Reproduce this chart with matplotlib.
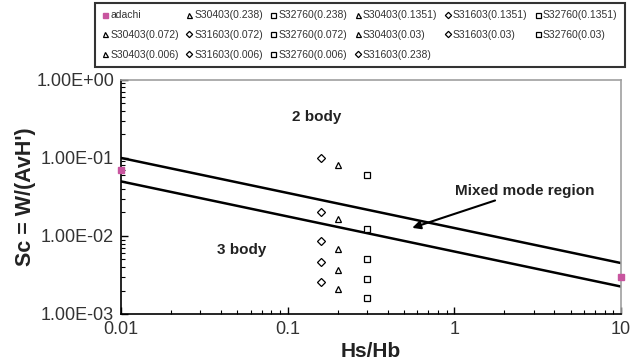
import matplotlib
matplotlib.use('Agg')
import matplotlib.pyplot as plt
from matplotlib.ticker import FuncFormatter, LogLocator

plt.rcParams['font.family'] = ['Liberation Sans', 'DejaVu Sans']

# boundary lines of the mixed mode region
line_x = [0.01, 10]
upper_y = [0.1, 0.0045]
lower_y = [0.05, 0.00225]

# adachi points
adachi_x = [0.01, 10]
adachi_y = [0.07, 0.003]

# loads, top to bottom in the plot
loads = ['0.238', '0.1351', '0.072', '0.03', '0.006']
s30403_x = 0.20
s30403_y = [0.081, 0.0164, 0.0069, 0.0037, 0.0021]
s31603_x = 0.158
s31603_y = [0.099, 0.020, 0.0086, 0.0046, 0.0026]
s32760_x = 0.30
s32760_y = [0.0605, 0.0122, 0.0051, 0.0028, 0.0016]

fig = plt.figure(figsize=(6.4, 3.63), dpi=100)
ax = fig.add_axes([0.189, 0.135, 0.781, 0.645])

ax.plot(line_x, upper_y, color='black', lw=1.8)
ax.plot(line_x, lower_y, color='black', lw=1.8)

h = {}
h['adachi'] = ax.plot(adachi_x, adachi_y, 's', color='#c8559f', ms=4.5,
                      clip_on=False, zorder=5)[0]
mk = dict(ls='none', mfc='white', mec='black', mew=0.9, ms=4.5)
for i, ld in enumerate(loads):
    h['S30403(%s)' % ld] = ax.plot([s30403_x], [s30403_y[i]], '^', **mk)[0]
    h['S31603(%s)' % ld] = ax.plot([s31603_x], [s31603_y[i]], 'D', **dict(mk, ms=4))[0]
    h['S32760(%s)' % ld] = ax.plot([s32760_x], [s32760_y[i]], 's', **mk)[0]

ax.set_xscale('log')
ax.set_yscale('log')
ax.set_xlim(0.01, 10)
ax.set_ylim(1e-3, 1)

ax.xaxis.set_major_formatter(FuncFormatter(lambda v, p: '%g' % v))
ax.yaxis.set_major_formatter(FuncFormatter(lambda v, p: '%.2E' % v))
ax.yaxis.set_minor_locator(LogLocator(base=10, subs=range(2, 10)))
ax.tick_params(which='both', direction='in', top=False, right=False,
               labelsize=13, labelcolor='#333333')
ax.tick_params(which='major', length=5, width=1)
ax.tick_params(which='minor', length=3, width=0.8)
ax.tick_params(axis='x', pad=5)
ax.tick_params(axis='y', pad=5)

for s in ['top', 'right']:
    ax.spines[s].set_color('#a0a0a0')
    ax.spines[s].set_linewidth(1.2)
for s in ['left', 'bottom']:
    ax.spines[s].set_linewidth(1.2)

ax.set_xlabel('Hs/Hb', fontsize=15, fontweight='bold', color='#222222', va='center')
ax.set_ylabel("Sc = W/(AvH')", fontsize=15.5, fontweight='bold', color='#222222', va='center')
ax.xaxis.set_label_coords(0.5, -0.162)
ax.yaxis.set_label_coords(-0.19, 0.5)

ax.text(0.106, 0.339, '2 body', fontsize=11, fontweight='bold', color='#222222', va='center')
ax.text(0.0375, 0.0066, '3 body', fontsize=11, fontweight='bold', color='#222222', va='center')
ax.annotate('Mixed mode region', xy=(0.56, 0.0127), xytext=(1.01, 0.038),
            fontsize=11, fontweight='bold', color='#222222', va='center',
            arrowprops=dict(arrowstyle='-|>', color='black', lw=1.5,
                            shrinkA=0, shrinkB=0, mutation_scale=12))

# legend filled column by column
order = ['adachi', 'S30403(0.072)', 'S30403(0.006)',
         'S30403(0.238)', 'S31603(0.072)', 'S31603(0.006)',
         'S32760(0.238)', 'S32760(0.072)', 'S32760(0.006)',
         'S30403(0.1351)', 'S30403(0.03)', 'S31603(0.238)',
         'S31603(0.1351)', 'S31603(0.03)',
         'S32760(0.1351)', 'S32760(0.03)']
leg = fig.legend([h[k] for k in order], order, ncol=6, loc='upper left',
                 bbox_to_anchor=(0.148, 0.992), fontsize=7.5, frameon=True,
                 fancybox=False, handlelength=0.6, handletextpad=0.2,
                 columnspacing=0.68, labelspacing=0.95, borderpad=0.7,
                 borderaxespad=0, markerscale=0.8)
leg.get_frame().set_edgecolor('black')
leg.get_frame().set_linewidth(1.5)
for t in leg.get_texts():
    t.set_color('#333333')

fig.savefig('out.png', dpi=100)
